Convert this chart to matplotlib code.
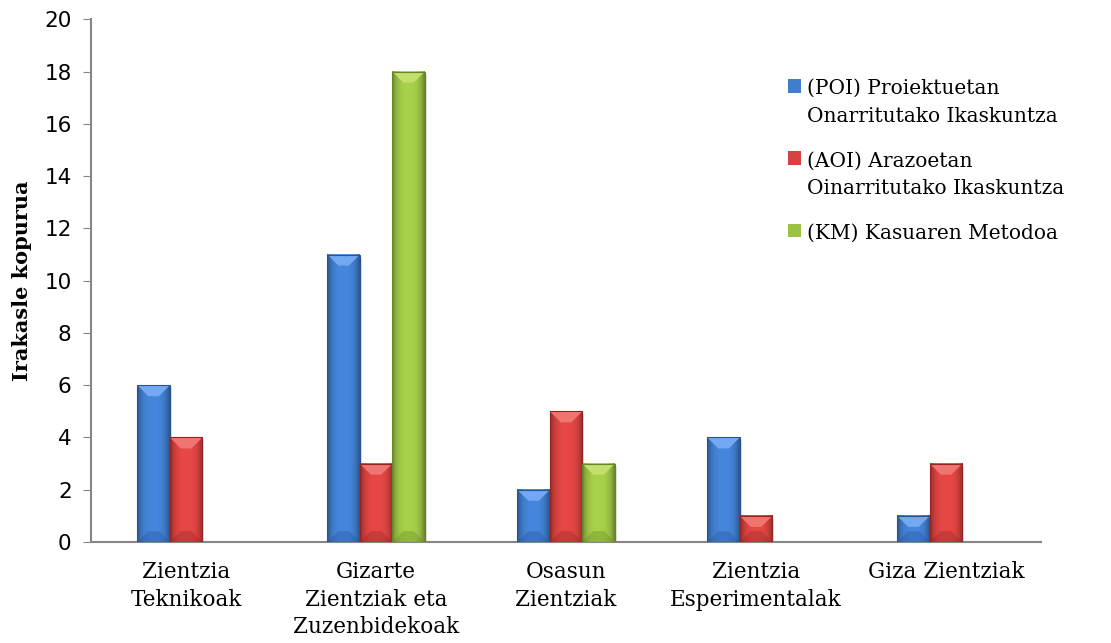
import numpy as np
import matplotlib
matplotlib.use("Agg")
import matplotlib.pyplot as plt
from matplotlib.patches import Polygon, Rectangle

# survey counts per field of knowledge
categories = ["Zientzia\nTeknikoak", "Gizarte\nZientziak eta\nZuzenbidekoak",
              "Osasun\nZientziak", "Zientzia\nEsperimentalak", "Giza Zientziak"]
poi = [6, 11, 2, 4, 1]
aoi = [4, 3, 5, 1, 3]
km = [0, 18, 3, 0, 0]
series_names = ["(POI) Proiektuetan\nOnarritutako Ikaskuntza",
                "(AOI) Arazoetan\nOinarritutako Ikaskuntza",
                "(KM) Kasuaren Metodoa"]
y_ticks = [0, 2, 4, 6, 8, 10, 12, 14, 16, 18, 20]

# base, light, dark shades for the bevelled bars
palette = [
    ((0.25, 0.49, 0.80), (0.45, 0.66, 0.95), (0.16, 0.33, 0.58)),
    ((0.84, 0.26, 0.25), (0.94, 0.46, 0.44), (0.58, 0.14, 0.14)),
    ((0.61, 0.76, 0.27), (0.76, 0.88, 0.42), (0.40, 0.52, 0.16)),
]

serif = "DejaVu Serif"
fig = plt.figure(figsize=(11.11, 6.43), dpi=100)
ax = fig.add_axes([0.082, 0.157, 0.855, 0.813])
ax.set_xlim(-0.5, len(categories) - 0.5)
ax.set_ylim(0, 20)

bar_w = 0.171
x = np.arange(len(categories))

# pixel -> data conversion factors
ax_w_px = fig.get_figwidth() * fig.dpi * 0.855
ax_h_px = fig.get_figheight() * fig.dpi * 0.813
px_x = (len(categories)) / ax_w_px
px_y = 20 / ax_h_px


def bevel_bar(patch, shades):
    base, light, dark = shades
    x0, w, h = patch.get_x(), patch.get_width(), patch.get_height()
    if h <= 0:
        return
    # soft drop shadow
    ax.add_patch(Rectangle((x0 + 2 * px_x, -3 * px_y), w, h, color="#000000",
                           alpha=0.12, zorder=1.5, lw=0))
    # horizontal shading: darker edges, lighter middle
    t = np.linspace(-1, 1, 60)
    f = 1.08 - 0.4 * np.abs(t) ** 3
    img = np.clip(np.array(base)[None, :] * f[:, None], 0, 1)[None, :, :]
    ax.imshow(img, extent=(x0, x0 + w, 0, h), aspect="auto", zorder=3,
              interpolation="bilinear")
    d_y = min(11 * px_y, h / 2)
    d_x = d_y / px_y * px_x
    top = [(x0, h), (x0 + w, h), (x0 + w - d_x, h - d_y), (x0 + d_x, h - d_y)]
    ax.add_patch(Polygon(top, closed=True, color=light, lw=0, zorder=4))
    bot = [(x0, 0), (x0 + w, 0), (x0 + w - d_x, d_y), (x0 + d_x, d_y)]
    ax.add_patch(Polygon(bot, closed=True, color=dark, alpha=0.35, lw=0, zorder=4))
    ax.add_patch(Rectangle((x0, 0), w, h, fill=False, ec=dark, lw=0.8, zorder=5))


handles = []
for i, vals in enumerate([poi, aoi, km]):
    bars = ax.bar(x + (i - 1) * bar_w, vals, bar_w, color=palette[i][0],
                  zorder=2, label=series_names[i])
    for p in bars:
        bevel_bar(p, palette[i])
    handles.append(bars)

ax.set_xlim(-0.5, len(categories) - 0.5)
ax.set_ylim(0, 20)

for s in ["top", "right"]:
    ax.spines[s].set_visible(False)
for s in ["left", "bottom"]:
    ax.spines[s].set_color("#868686")
    ax.spines[s].set_linewidth(1.5)

ax.set_yticks(y_ticks)
ax.tick_params(axis="y", direction="out", length=6, color="#868686",
               labelsize=15.5, pad=8)
ax.set_xticks(x)
ax.set_xticklabels(categories, fontsize=15.5, family=serif, linespacing=1.3)
ax.tick_params(axis="x", length=0, pad=14)
ax.set_ylabel("Irakasle kopurua", fontsize=15, fontweight="bold", family=serif,
              labelpad=9)

leg = fig.legend(handles=handles, labels=series_names, loc="upper left",
                 bbox_to_anchor=(0.693, 0.905), frameon=False,
                 prop={"family": serif, "size": 14.5}, handlelength=0.65,
                 handleheight=0.65, handletextpad=0.3, labelspacing=1.25)
for t in leg.get_texts():
    t.set_linespacing(1.6)
# put each swatch next to the first line of its label
for col in leg._legend_handle_box.get_children():
    for row in col.get_children():
        row.align = "top"

fig.savefig("out.png", dpi=100)
